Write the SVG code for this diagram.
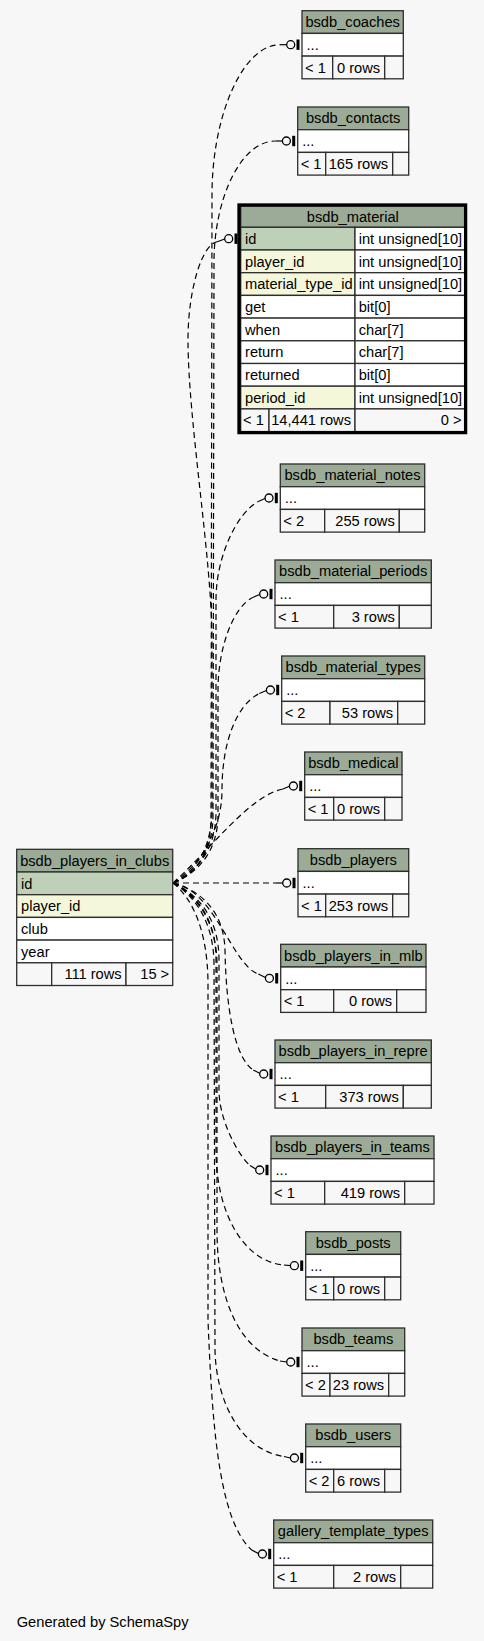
<svg xmlns="http://www.w3.org/2000/svg" xmlns:xlink="http://www.w3.org/1999/xlink" width="484" height="1641" viewBox="0 0 484 1641">
<style>
text{font-family:"Liberation Sans",Arial,Helvetica,sans-serif;font-size:14.67px;fill:#000}
.c{text-anchor:middle}
.e{text-anchor:end}
.hd{fill:#9bab96;stroke:#2e2e2e;stroke-width:1.3}
.rw{fill:#ffffff;stroke:#2e2e2e;stroke-width:1.3}
.pk{fill:#bed1b8;stroke:#2e2e2e;stroke-width:1.3}
.fk{fill:#f4f7da;stroke:#2e2e2e;stroke-width:1.3}
.ft{fill:#f7f7f7;stroke:#2e2e2e;stroke-width:1.3}
.edge{fill:none;stroke:#000;stroke-width:1.2;stroke-dasharray:6 4}
.stub{fill:none;stroke:#000;stroke-width:1.2}
.o{fill:none;stroke:#000;stroke-width:1.3}
</style>
<defs>
<g id="zo"><circle class="o" cx="-11.3" cy="0" r="4"/><rect x="-5.5" y="-5.2" width="3" height="10.4" fill="#000"/></g>
</defs>
<rect width="484" height="1641" fill="#f7f7f7"/>

<g id="connectors">
<path class="edge" d="M173,883 C192,876 210,858 211,820 L212,195 C212,115 243,44.7 280,44.7"/>
<line class="stub" x1="280" y1="44.7" x2="286.7" y2="44.7"/>
<path class="edge" d="M173,883 C193,875 213,855 213,815 L214,262 C214,200 240,141 275.7,141"/>
<line class="stub" x1="275.7" y1="141" x2="282.4" y2="141"/>
<path class="edge" d="M173,883 C193,874 212,850 212,810 L212,640 C212,560 188,420 188,340 C188,290 202,243 218,241.5"/>
<line class="stub" x1="218" y1="241.5" x2="224.7" y2="239"/>
<path class="edge" d="M173,883 C194,874 216,852 216,812 L216,600 C216,555 238,512 258.3,501.5"/>
<line class="stub" x1="258.3" y1="501.5" x2="265" y2="498.5"/>
<path class="edge" d="M173,883 C196,874 218,853 218,815 L218,690 C218,650 232,608 252.7,597.5"/>
<line class="stub" x1="252.7" y1="597.5" x2="259.7" y2="594.5"/>
<path class="edge" d="M173,883 C200,866 222,830 222,790 C222,745 235,706 259.3,693.5"/>
<line class="stub" x1="259.3" y1="693.5" x2="266.4" y2="690.5"/>
<path class="edge" d="M173,883 C210,850 250,795 283,789"/>
<line class="stub" x1="283" y1="789" x2="289.4" y2="786.3"/>
<path class="edge" d="M173,883 L276,883"/>
<line class="stub" x1="276" y1="883" x2="282.7" y2="883"/>
<path class="edge" d="M173,883 C215,890 232,965 258.3,974"/>
<line class="stub" x1="258.3" y1="974" x2="265.4" y2="977.5"/>
<path class="edge" d="M173,883 C205,892 224,915 225,950 C226,1010 235,1058 253.3,1070"/>
<line class="stub" x1="253.3" y1="1070" x2="259.7" y2="1073.3"/>
<path class="edge" d="M173,883 C200,895 219,920 219,960 L219,1090 C219,1120 238,1155 250,1165.5"/>
<line class="stub" x1="250" y1="1165.5" x2="255.7" y2="1169"/>
<path class="edge" d="M173,883 C198,895 216,920 216,960 L216,1150 C216,1215 245,1262 284,1265"/>
<line class="stub" x1="284" y1="1265" x2="290.4" y2="1265.7"/>
<path class="edge" d="M173,883 C197,896 217,922 217,965 L217,1230 C217,1300 240,1350 280,1361"/>
<line class="stub" x1="280" y1="1361" x2="286.7" y2="1362"/>
<path class="edge" d="M173,883 C195,896 214,922 214,965 L215,1350 C216,1400 240,1450 284,1456.5"/>
<line class="stub" x1="284" y1="1456.5" x2="290.4" y2="1458"/>
<path class="edge" d="M173,883 C192,898 208,930 208,985 L208,1320 C212,1420 218,1520 251.7,1550"/>
<line class="stub" x1="251.7" y1="1550" x2="258.4" y2="1553.5"/>
</g>

<g id="bsdb_coaches">
<rect class="hd" x="302" y="10.7" width="101.3" height="22.7"/>
<rect class="rw" x="302" y="33.4" width="101.3" height="22.7"/>
<rect class="ft" x="302" y="56.1" width="30.7" height="22.7"/>
<rect class="ft" x="332.7" y="56.1" width="52" height="22.7"/>
<rect class="ft" x="384.7" y="56.1" width="18.6" height="22.7"/>
<text class="c" x="352.65" y="27">bsdb_coaches</text>
<text x="306.5" y="49.9">...</text>
<text x="305" y="72.5">&lt; 1</text>
<text class="e" x="380.2" y="72.5">0 rows</text>
<use href="#zo" x="302" y="44.7"/>
</g>

<g id="bsdb_contacts">
<rect class="hd" x="297.7" y="107" width="111" height="22.7"/>
<rect class="rw" x="297.7" y="129.7" width="111" height="22.7"/>
<rect class="ft" x="297.7" y="152.4" width="28" height="22.7"/>
<rect class="ft" x="325.7" y="152.4" width="67" height="22.7"/>
<rect class="ft" x="392.7" y="152.4" width="16" height="22.7"/>
<text class="c" x="353.2" y="123.3">bsdb_contacts</text>
<text x="302.2" y="146.2">...</text>
<text x="300.7" y="168.8">&lt; 1</text>
<text class="e" x="388.2" y="168.8">165 rows</text>
<use href="#zo" x="297.7" y="141"/>
</g>

<g id="bsdb_material">
<rect class="hd" x="240.7" y="206" width="224.3" height="21.3"/>
<rect class="pk" x="240.7" y="227.3" width="114.3" height="22.7"/>
<rect class="rw" x="355" y="227.3" width="110" height="22.7"/>
<rect class="fk" x="240.7" y="250" width="114.3" height="22.7"/>
<rect class="rw" x="355" y="250" width="110" height="22.7"/>
<rect class="fk" x="240.7" y="272.7" width="114.3" height="22.7"/>
<rect class="rw" x="355" y="272.7" width="110" height="22.7"/>
<rect class="rw" x="240.7" y="295.4" width="114.3" height="22.7"/>
<rect class="rw" x="355" y="295.4" width="110" height="22.7"/>
<rect class="rw" x="240.7" y="318.1" width="114.3" height="22.7"/>
<rect class="rw" x="355" y="318.1" width="110" height="22.7"/>
<rect class="rw" x="240.7" y="340.8" width="114.3" height="22.7"/>
<rect class="rw" x="355" y="340.8" width="110" height="22.7"/>
<rect class="rw" x="240.7" y="363.5" width="114.3" height="22.7"/>
<rect class="rw" x="355" y="363.5" width="110" height="22.7"/>
<rect class="fk" x="240.7" y="386.2" width="114.3" height="22.7"/>
<rect class="rw" x="355" y="386.2" width="110" height="22.7"/>
<rect class="ft" x="240.7" y="408.9" width="28.3" height="22.7"/>
<rect class="ft" x="269" y="408.9" width="86" height="22.7"/>
<rect class="ft" x="355" y="408.9" width="110" height="22.7"/>
<rect x="239" y="205" width="226.6" height="227.6" fill="none" stroke="#000" stroke-width="3.3"/>
<text class="c" x="352.85" y="222">bsdb_material</text>
<text x="245" y="243.8">id</text><text x="358.7" y="243.8">int unsigned[10]</text>
<text x="245" y="266.5">player_id</text><text x="358.7" y="266.5">int unsigned[10]</text>
<text x="245" y="289.2">material_type_id</text><text x="358.7" y="289.2">int unsigned[10]</text>
<text x="245" y="311.9">get</text><text x="358.7" y="311.9">bit[0]</text>
<text x="245" y="334.6">when</text><text x="358.7" y="334.6">char[7]</text>
<text x="245" y="357.3">return</text><text x="358.7" y="357.3">char[7]</text>
<text x="245" y="380">returned</text><text x="358.7" y="380">bit[0]</text>
<text x="245" y="402.7">period_id</text><text x="358.7" y="402.7">int unsigned[10]</text>
<text x="243" y="425.4">&lt; 1</text>
<text class="e" x="351" y="425.4">14,441 rows</text>
<text class="e" x="461.5" y="425.4">0 &gt;</text>
<use href="#zo" x="240" y="238.7"/>
</g>

<g id="bsdb_material_notes">
<rect class="hd" x="280.3" y="464" width="144.4" height="22.7"/>
<rect class="rw" x="280.3" y="486.7" width="144.4" height="22.7"/>
<rect class="ft" x="280.3" y="509.4" width="44.4" height="22.7"/>
<rect class="ft" x="324.7" y="509.4" width="74.6" height="22.7"/>
<rect class="ft" x="399.3" y="509.4" width="25.4" height="22.7"/>
<text class="c" x="352.5" y="480.3">bsdb_material_notes</text>
<text x="284.8" y="503.2">...</text>
<text x="283.3" y="525.8">&lt; 2</text>
<text class="e" x="394.8" y="525.8">255 rows</text>
<use href="#zo" x="280.3" y="498"/>
</g>

<g id="bsdb_material_periods">
<rect class="hd" x="275" y="560" width="156.3" height="22.7"/>
<rect class="rw" x="275" y="582.7" width="156.3" height="22.7"/>
<rect class="ft" x="275" y="605.4" width="58.7" height="22.7"/>
<rect class="ft" x="333.7" y="605.4" width="65.6" height="22.7"/>
<rect class="ft" x="399.3" y="605.4" width="32" height="22.7"/>
<text class="c" x="353.15" y="576.3">bsdb_material_periods</text>
<text x="279.5" y="599.2">...</text>
<text x="278" y="621.8">&lt; 1</text>
<text class="e" x="394.8" y="621.8">3 rows</text>
<use href="#zo" x="275" y="594"/>
</g>

<g id="bsdb_material_types">
<rect class="hd" x="281.7" y="656" width="143" height="22.7"/>
<rect class="rw" x="281.7" y="678.7" width="143" height="22.7"/>
<rect class="ft" x="281.7" y="701.4" width="48.3" height="22.7"/>
<rect class="ft" x="330" y="701.4" width="67.7" height="22.7"/>
<rect class="ft" x="397.7" y="701.4" width="27" height="22.7"/>
<text class="c" x="353.2" y="672.3">bsdb_material_types</text>
<text x="286.2" y="695.2">...</text>
<text x="284.7" y="717.8">&lt; 2</text>
<text class="e" x="393.2" y="717.8">53 rows</text>
<use href="#zo" x="281.7" y="690"/>
</g>

<g id="bsdb_medical">
<rect class="hd" x="304.7" y="752" width="97.3" height="22.7"/>
<rect class="rw" x="304.7" y="774.7" width="97.3" height="22.7"/>
<rect class="ft" x="304.7" y="797.4" width="29" height="22.7"/>
<rect class="ft" x="333.7" y="797.4" width="51" height="22.7"/>
<rect class="ft" x="384.7" y="797.4" width="17.3" height="22.7"/>
<text class="c" x="353.35" y="768.3">bsdb_medical</text>
<text x="309.2" y="791.2">...</text>
<text x="307.7" y="813.8">&lt; 1</text>
<text class="e" x="380.2" y="813.8">0 rows</text>
<use href="#zo" x="304.7" y="786"/>
</g>

<g id="bsdb_players">
<rect class="hd" x="298" y="848.7" width="110.7" height="22.7"/>
<rect class="rw" x="298" y="871.4" width="110.7" height="22.7"/>
<rect class="ft" x="298" y="894.1" width="27.7" height="22.7"/>
<rect class="ft" x="325.7" y="894.1" width="67" height="22.7"/>
<rect class="ft" x="392.7" y="894.1" width="16" height="22.7"/>
<text class="c" x="353.35" y="865">bsdb_players</text>
<text x="302.5" y="887.9">...</text>
<text x="301" y="910.5">&lt; 1</text>
<text class="e" x="388.2" y="910.5">253 rows</text>
<use href="#zo" x="298" y="883"/>
</g>

<g id="bsdb_players_in_clubs">
<rect class="hd" x="16.7" y="849.3" width="156" height="22.7"/>
<rect class="pk" x="16.7" y="872" width="156" height="22.7"/>
<rect class="fk" x="16.7" y="894.7" width="156" height="22.7"/>
<rect class="rw" x="16.7" y="917.4" width="156" height="22.7"/>
<rect class="rw" x="16.7" y="940.1" width="156" height="22.7"/>
<rect class="ft" x="16.7" y="962.8" width="35" height="22.7"/>
<rect class="ft" x="51.7" y="962.8" width="74.3" height="22.7"/>
<rect class="ft" x="126" y="962.8" width="46.7" height="22.7"/>
<text class="c" x="94.7" y="865.6">bsdb_players_in_clubs</text>
<text x="21" y="888.5">id</text>
<text x="21" y="911.2">player_id</text>
<text x="21" y="933.9">club</text>
<text x="21" y="956.6">year</text>
<text class="e" x="121.7" y="979.2">111 rows</text>
<text class="e" x="169.2" y="979.2">15 &gt;</text>
</g>

<g id="bsdb_players_in_mlb">
<rect class="hd" x="280.7" y="944.3" width="145.3" height="22.7"/>
<rect class="rw" x="280.7" y="967" width="145.3" height="22.7"/>
<rect class="ft" x="280.7" y="989.7" width="53" height="22.7"/>
<rect class="ft" x="333.7" y="989.7" width="63" height="22.7"/>
<rect class="ft" x="396.7" y="989.7" width="29.3" height="22.7"/>
<text class="c" x="353.35" y="960.6">bsdb_players_in_mlb</text>
<text x="285.2" y="983.5">...</text>
<text x="283.7" y="1006.1">&lt; 1</text>
<text class="e" x="392.2" y="1006.1">0 rows</text>
<use href="#zo" x="280.7" y="978.3"/>
</g>

<g id="bsdb_players_in_repre">
<rect class="hd" x="275" y="1040" width="156.3" height="22.7"/>
<rect class="rw" x="275" y="1062.7" width="156.3" height="22.7"/>
<rect class="ft" x="275" y="1085.4" width="50.7" height="22.7"/>
<rect class="ft" x="325.7" y="1085.4" width="77.6" height="22.7"/>
<rect class="ft" x="403.3" y="1085.4" width="28" height="22.7"/>
<text class="c" x="353.15" y="1056.3">bsdb_players_in_repre</text>
<text x="279.5" y="1079.2">...</text>
<text x="278" y="1101.8">&lt; 1</text>
<text class="e" x="398.8" y="1101.8">373 rows</text>
<use href="#zo" x="275" y="1074"/>
</g>

<g id="bsdb_players_in_teams">
<rect class="hd" x="271" y="1136" width="163" height="22.7"/>
<rect class="rw" x="271" y="1158.7" width="163" height="22.7"/>
<rect class="ft" x="271" y="1181.4" width="53.7" height="22.7"/>
<rect class="ft" x="324.7" y="1181.4" width="80" height="22.7"/>
<rect class="ft" x="404.7" y="1181.4" width="29.3" height="22.7"/>
<text class="c" x="352.5" y="1152.3">bsdb_players_in_teams</text>
<text x="275.5" y="1175.2">...</text>
<text x="274" y="1197.8">&lt; 1</text>
<text class="e" x="400.2" y="1197.8">419 rows</text>
<use href="#zo" x="271" y="1170"/>
</g>

<g id="bsdb_posts">
<rect class="hd" x="305.7" y="1231.7" width="95" height="22.7"/>
<rect class="rw" x="305.7" y="1254.4" width="95" height="22.7"/>
<rect class="ft" x="305.7" y="1277.1" width="28" height="22.7"/>
<rect class="ft" x="333.7" y="1277.1" width="51" height="22.7"/>
<rect class="ft" x="384.7" y="1277.1" width="16" height="22.7"/>
<text class="c" x="353.2" y="1248">bsdb_posts</text>
<text x="310.2" y="1270.9">...</text>
<text x="308.7" y="1293.5">&lt; 1</text>
<text class="e" x="380.2" y="1293.5">0 rows</text>
<use href="#zo" x="305.7" y="1265.7"/>
</g>

<g id="bsdb_teams">
<rect class="hd" x="302" y="1328" width="102.7" height="22.7"/>
<rect class="rw" x="302" y="1350.7" width="102.7" height="22.7"/>
<rect class="ft" x="302" y="1373.4" width="28" height="22.7"/>
<rect class="ft" x="330" y="1373.4" width="58.7" height="22.7"/>
<rect class="ft" x="388.7" y="1373.4" width="16" height="22.7"/>
<text class="c" x="353.35" y="1344.3">bsdb_teams</text>
<text x="306.5" y="1367.2">...</text>
<text x="305" y="1389.8">&lt; 2</text>
<text class="e" x="384.2" y="1389.8">23 rows</text>
<use href="#zo" x="302" y="1362"/>
</g>

<g id="bsdb_users">
<rect class="hd" x="305.7" y="1424" width="95" height="22.7"/>
<rect class="rw" x="305.7" y="1446.7" width="95" height="22.7"/>
<rect class="ft" x="305.7" y="1469.4" width="28" height="22.7"/>
<rect class="ft" x="333.7" y="1469.4" width="51" height="22.7"/>
<rect class="ft" x="384.7" y="1469.4" width="16" height="22.7"/>
<text class="c" x="353.2" y="1440.3">bsdb_users</text>
<text x="310.2" y="1463.2">...</text>
<text x="308.7" y="1485.8">&lt; 2</text>
<text class="e" x="380.2" y="1485.8">6 rows</text>
<use href="#zo" x="305.7" y="1458"/>
</g>

<g id="gallery_template_types">
<rect class="hd" x="273.7" y="1520" width="159" height="22.7"/>
<rect class="rw" x="273.7" y="1542.7" width="159" height="22.7"/>
<rect class="ft" x="273.7" y="1565.4" width="60" height="22.7"/>
<rect class="ft" x="333.7" y="1565.4" width="67" height="22.7"/>
<rect class="ft" x="400.7" y="1565.4" width="32" height="22.7"/>
<text class="c" x="353.2" y="1536.3">gallery_template_types</text>
<text x="278.2" y="1559.2">...</text>
<text x="276.7" y="1581.8">&lt; 1</text>
<text class="e" x="396.2" y="1581.8">2 rows</text>
<use href="#zo" x="273.7" y="1554"/>
</g>

<text x="16.7" y="1627.3">Generated by SchemaSpy</text>
</svg>
